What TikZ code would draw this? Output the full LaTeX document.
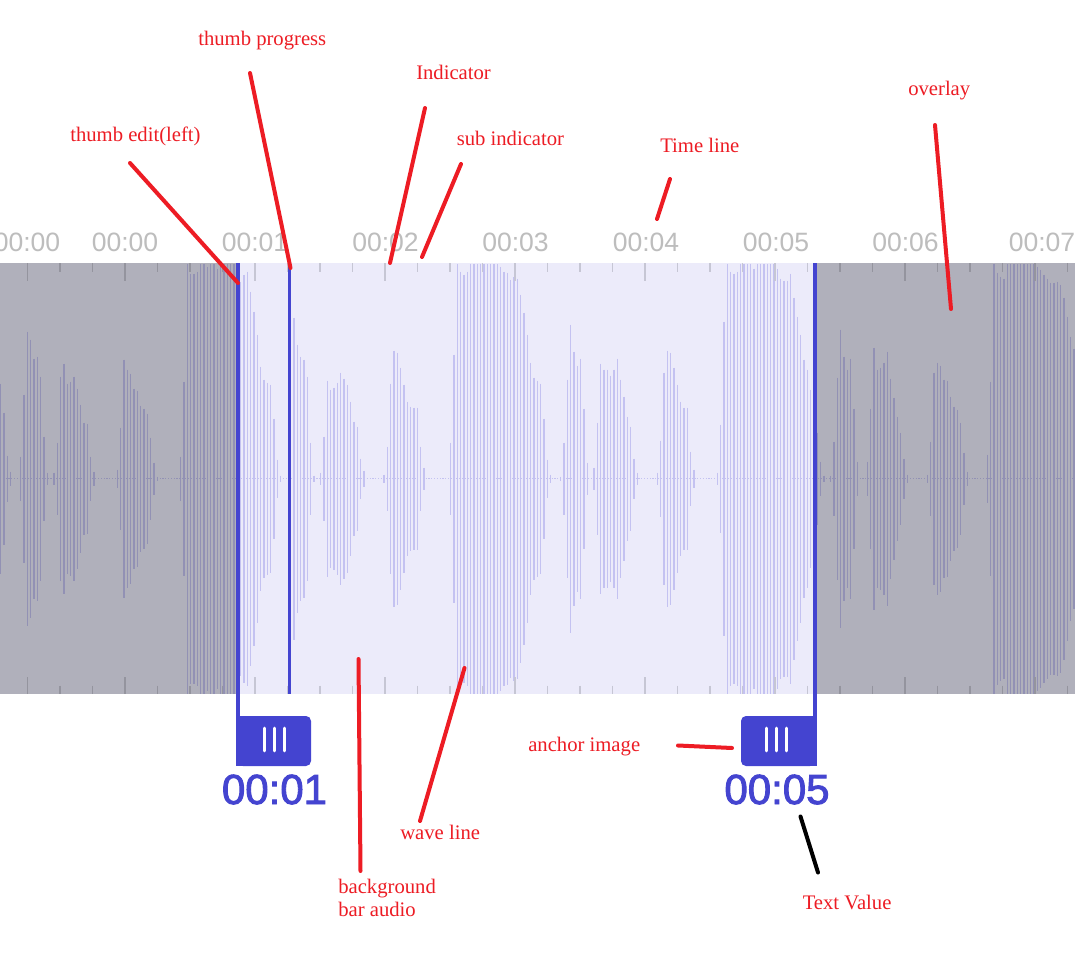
\documentclass[tikz,border=0pt]{standalone}
\usepackage{fontspec}
\setmainfont{Liberation Serif}
\newfontfamily\sansf{Liberation Sans}
\newfontfamily\sansmed[FakeBold=2.2]{Liberation Sans}
\definecolor{bgbar}{HTML}{ECEBFA}
\definecolor{wavecol}{HTML}{C4C2F1}
\definecolor{tickcol}{HTML}{C6C6D4}
\definecolor{thumbblue}{HTML}{4444D0}
\definecolor{tlgray}{HTML}{BDBDBD}
\definecolor{annred}{HTML}{ED1C24}
\tikzset{
  wavebar/.style={draw=wavecol, line width=0.95pt},
  tickmark/.style={draw=tickcol, line width=1pt},
  tllabel/.style={text=tlgray, font=\sansf\fontsize{19.9}{24}\selectfont, anchor=base, inner sep=0pt},
  valtext/.style={text=thumbblue, font=\sansmed\fontsize{31.5}{38}\selectfont, anchor=base, inner sep=0pt},
  annot/.style={text=annred, font=\fontsize{15.5}{18}\selectfont, anchor=base west, inner sep=0pt},
  redline/.style={draw=annred, line width=3pt, line cap=round},
  blackline/.style={draw=black, line width=3pt, line cap=round},
  overlayshade/.style={fill=black, fill opacity=0.25},
  grip/.style={draw=white, line width=2.2pt, line cap=round},
}
\begin{document}
\begin{tikzpicture}[x=0.75pt,y=-0.75pt]
\clip (0,0) rectangle (1075,963);
\fill[white] (0,0) rectangle (1075,963);
% background bar audio
\fill[bgbar] (0,263) rectangle (1075,694);
% dotted centre line
\draw[wavecol, line width=1.1pt, dash pattern=on 0.9pt off 1.2pt] (0,478.5) -- (1075,478.5);
% wave bars
\foreach \h [count=\k from 0] in {95,66,23,7,0,0,22,84,147,139,
120,122,102,42,6,0,6,36,102,115,
95,97,102,90,74,56,55,22,7,0,
0,0,0,0,0,9,51,119,109,105,
90,88,73,70,65,41,16,2,0,0,
0,0,0,0,22,97,215,205,205,207,
215,215,212,215,215,210,215,215,215,215,
215,215,197,204,207,187,167,144,112,99,
96,94,60,19,3,0,0,36,161,134,
122,119,102,36,3,0,6,42,98,89,
91,96,106,100,94,77,57,52,20,8,
0,0,0,0,0,4,32,95,128,126,
111,94,77,72,71,71,32,11,0,0,
0,0,0,0,0,36,124,215,207,204,
207,215,215,215,215,215,215,215,215,215,
212,207,206,199,202,200,184,166,144,116,
101,98,95,60,19,4,0,0,2,36,
99,154,127,113,120,70,16,0,11,56,
115,109,109,103,109,120,99,82,62,52,
20,6,0,0,0,0,0,6,38,106,
128,126,111,94,77,71,71,27,9,0,
0,0,0,0,0,6,54,157,215,207,
205,207,215,215,215,215,210,215,215,215,
215,215,215,210,200,198,198,205,181,162,
144,119,109,89,80,46,17,3,0,3,
37,101,149,122,109,120,70,17,0,0,
17,70,131,109,111,116,127,100,81,62,
46,20,4,0,0,0,0,0,4,37,
106,116,113,99,98,82,72,69,56,26,
7,0,0,0,0,0,24,97,215,206,
202,200,215,215,215,215,215,215,215,215,
215,212,209,204,200,196,196,197,194,181,
162,142,130}{
  \ifnum\h>0
    \draw[wavebar] ({0.67+3.333*\k},{478.5-\h}) -- ({0.67+3.333*\k},{478.5+\h});
  \fi
}
% ticks
\foreach \t in {60,92.5} {
  \draw[tickmark] (\t,263) -- (\t,271.5);
  \draw[tickmark] (\t,685.5) -- (\t,694);
}
\foreach \i in {0,...,29} {
  \draw[tickmark] ({125+32.5*\i},263) -- ({125+32.5*\i},271.5);
  \draw[tickmark] ({125+32.5*\i},685.5) -- ({125+32.5*\i},694);
}
\foreach \t in {27.5,125,255,385,515,645,775,905,1035} {
  \draw[tickmark] (\t,263) -- (\t,280.5);
  \draw[tickmark] (\t,677) -- (\t,694);
}
% overlays
\fill[overlayshade] (0,263) rectangle (237,694);
\fill[overlayshade] (815,263) rectangle (1075,694);
% timeline labels
\node[tllabel] (t0a) at (27,251.5) {00:00};
\node[tllabel] (t0b) at (125,251.5) {00:00};
\node[tllabel] (t1) at (255,251.5) {00:01};
\node[tllabel] (t2) at (385.5,251.5) {00:02};
\node[tllabel] (t3) at (515.5,251.5) {00:03};
\node[tllabel] (t4) at (646,251.5) {00:04};
\node[tllabel] (t5) at (776,251.5) {00:05};
\node[tllabel] (t6) at (905.5,251.5) {00:06};
\node[tllabel] (t7) at (1042,251.5) {00:07};
% thumb progress line
\draw[thumbblue, line width=1.9pt] (289.5,263) -- (289.5,694);
% left thumb
\draw[thumbblue, line width=2.5pt] (238,263) -- (238,766);
\fill[thumbblue, rounded corners=3.75pt] (238,716) rectangle (311,766);
\fill[thumbblue] (238,716) rectangle (270,766);
\foreach \gx in {264.7,274.4,284.1} \draw[grip] (\gx,728) -- (\gx,751);
% right thumb
\draw[thumbblue, line width=2.5pt] (815,263) -- (815,766);
\fill[thumbblue, rounded corners=3.75pt] (741,716) rectangle (815,766);
\fill[thumbblue] (780,716) rectangle (815,766);
\foreach \gx in {766.7,776.4,786.1} \draw[grip] (\gx,728) -- (\gx,751);
% values
\node[valtext] (v1) at (274.5,804) {00:01};
\node[valtext] (v5) at (777,804) {00:05};
% annotations
\node[annot] (lprog) at (198,46) {thumb progress};
\node[annot] (lind) at (416,80) {Indicator};
\node[annot] (ledit) at (70,142) {thumb edit(left)};
\node[annot] (lsub) at (456.5,145.5) {sub indicator};
\node[annot] (ltime) at (660,153) {Time line};
\node[annot] (lover) at (908,96) {overlay};
\node[annot] (lanchor) at (528,751.5) {anchor image};
\node[annot] (lwave) at (400,839) {wave line};
\node[annot] (lbg1) at (338,893) {background};
\node[annot] (lbg2) at (338,916.5) {bar audio};
\node[annot] (ltext) at (802.5,909.5) {Text Value};
% connector end points
\coordinate (aedit1) at (130,163);
\coordinate (aedit2) at (238,283);
\coordinate (aprog1) at (250,73);
\coordinate (aprog2) at (290.5,268);
\coordinate (aind1) at (425,108);
\coordinate (aind2) at (390,263);
\coordinate (asub1) at (461,164);
\coordinate (asub2) at (422,257);
\coordinate (atime1) at (670,179);
\coordinate (atime2) at (657,219);
\coordinate (aover1) at (935,125);
\coordinate (aover2) at (951,309);
\coordinate (abg1) at (358.5,659);
\coordinate (abg2) at (360.5,871);
\coordinate (awave1) at (464.5,668);
\coordinate (awave2) at (420,821);
\coordinate (aanc1) at (678,745.5);
\coordinate (aanc2) at (732,748);
\coordinate (atv1) at (800.5,816.5);
\coordinate (atv2) at (818,872.5);
\draw[redline] (aedit1) -- (aedit2);
\draw[redline] (aprog1) -- (aprog2);
\draw[redline] (aind1) -- (aind2);
\draw[redline] (asub1) -- (asub2);
\draw[redline] (atime1) -- (atime2);
\draw[redline] (aover1) -- (aover2);
\draw[redline] (abg1) -- (abg2);
\draw[redline] (awave1) -- (awave2);
\draw[redline] (aanc1) -- (aanc2);
\draw[blackline] (atv1) -- (atv2);
\end{tikzpicture}
\end{document}
